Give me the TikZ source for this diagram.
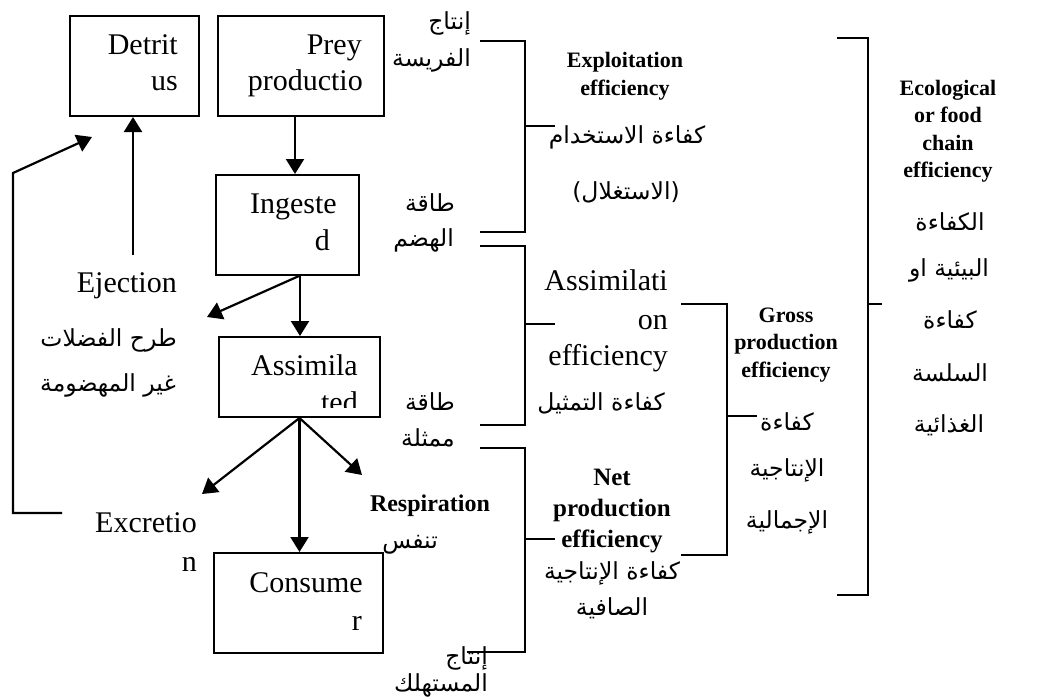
\documentclass[tikz,border=0pt]{standalone}
\usepackage{fontspec}
\setmainfont{Liberation Serif}
\newfontfamily\arabicfont[Script=Arabic]{DejaVu Sans}
\TeXXeTstate=1
\usetikzlibrary{arrows.meta}
\tikzset{
  box/.style={draw, line width=2pt, inner sep=0pt},
  lt/.style={inner sep=0pt, anchor=east, font=\fontsize{30}{36}\selectfont, text height=21pt, text depth=7pt},
  ar/.style={inner sep=0pt, font=\arabicfont\fontsize{23.5}{27}\selectfont},
  bt/.style={inner sep=0pt, align=center, font=\bfseries\fontsize{22}{27.5}\selectfont},
  arr/.style={line width=2.2pt, -{Triangle[length=15pt,width=18pt]}},
  brk/.style={line width=2pt},
}
\begin{document}
\begin{tikzpicture}[x=1pt,y=-1pt]
\useasboundingbox (0,0) rectangle (1041,699);
% boxes
\node[box, minimum width=129pt, minimum height=100pt] (det) at (134.5,66) {};
\node[box, minimum width=166pt, minimum height=100pt] (prey) at (301,66) {};
\node[box, minimum width=143pt, minimum height=100pt] (ing) at (287.5,225) {};
\node[box, minimum width=161pt, minimum height=80pt] (ass) at (299.5,377) {};
\node[box, minimum width=169pt, minimum height=100pt] (con) at (298.5,603) {};
% box texts
\node[lt] (t1) at (178,47) {Detrit};
\node[lt] (t2) at (178,83) {us};
\node[lt] (t3) at (362,47) {Prey};
\node[lt] (t4) at (363,83) {productio};
\node[lt] (t5) at (337,206) {Ingeste};
\node[lt] (t6) at (330,243) {d};
\node[lt] (t7) at (358,368) {Assimila};
\begin{scope}
  \clip (219,337) rectangle (380,407);
  \node[lt] (t8) at (358,405) {ted};
\end{scope}
\node[lt] (t9) at (363,585) {Consume};
\node[lt] (t10) at (362,623) {r};
\node[lt] (t11) at (177,285) {Ejection};
\node[lt] (t12) at (197,525) {Excretio};
\node[lt] (t13) at (197,564) {n};
% arabic labels left part
\node[ar, anchor=east] (a1) at (177,340) {\beginR طرح الفضلات\endR};
\node[ar, anchor=east] (a2) at (176,385) {\beginR غير المهضومة\endR};
\node[ar, anchor=east] (a3) at (471,23) {\beginR إنتاج\endR};
\node[ar, anchor=east] (a4) at (471,60) {\beginR الفريسة\endR};
\node[ar, anchor=east] (a5) at (455,203) {\beginR طاقة\endR};
\node[ar, anchor=east] (a6) at (454,240) {\beginR الهضم\endR};
\node[ar, anchor=east] (a7) at (455,402) {\beginR طاقة\endR};
\node[ar, anchor=east] (a8) at (455,438) {\beginR ممثلة\endR};
\node[ar, anchor=east] (a9) at (438,545) {\beginR تنفس\endR};
\node[ar, anchor=east] (a10) at (488,658) {\beginR إنتاج\endR};
\node[ar, anchor=east] (a11) at (488,685) {\beginR المستهلك\endR};
\node[bt, font=\bfseries\fontsize{24}{28}\selectfont] (resp) at (430,506) {Respiration};
% arrows
\draw[arr] ([xshift=-6pt]prey.south) -- ([xshift=-6pt]prey.south |- ing.north);
\draw[arr] ([xshift=12.5pt]ing.south) -- ([xshift=12.5pt]ing.south |- ass.north);
\coordinate (ejA) at (207,317);
\draw[arr] ([xshift=11.5pt]ing.south) -- (ejA);
\coordinate (ejTop) at (133,255);
\draw[arr] (ejTop) -- (ejTop |- det.south);
\coordinate (fb1) at (62,513);
\coordinate (fb2) at (13,513);
\coordinate (fb3) at (13,173);
\coordinate (fb4) at (92,137);
\draw[arr] (fb1) -- (fb2) -- (fb3) -- (fb4);
\coordinate (exA) at (202,494);
\coordinate (reA) at (362,475);
\draw[arr] (ass.south) -- (exA);
\draw[arr] (ass.south) -- (ass.south |- con.north);
\draw[arr] (ass.south) -- (reA);
% brackets
\draw[brk] (480,41) -- (525,41) -- (525,232) -- (480,232) (525,126) -- (555,126);
\draw[brk] (480,246) -- (525,246) -- (525,425) -- (480,425) (525,324) -- (555,324);
\draw[brk] (480,448) -- (525,448) -- (525,652) -- (467,652) (525,539) -- (555,539);
\draw[brk] (681,304) -- (727,304) -- (727,555) -- (681,555) (727,416) -- (757,416);
\draw[brk] (837,38) -- (868,38) -- (868,595) -- (837,595) (868,304) -- (882,304);
% exploitation
\node[bt] (expl) at (625,76) {Exploitation\\efficiency};
\node[ar] (e1) at (627,137) {\beginR كفاءة الاستخدام\endR};
\node[ar] (e2) at (626,192) {\beginR (الاستغلال)\endR};
% assimilation
\node[lt] (as1) at (668,283) {Assimilati};
\node[lt] (as2) at (668,322) {on};
\node[lt] (as3) at (668,358) {efficiency};
\node[ar, anchor=east] (as4) at (665,403) {\beginR كفاءة التمثيل\endR};
% net
\node[bt, font=\bfseries\fontsize{25}{31}\selectfont] (net) at (612,511) {Net\\production\\efficiency};
\node[ar] (n1) at (612,573) {\beginR كفاءة الإنتاجية\endR};
\node[ar] (n2) at (612,608) {\beginR الصافية\endR};
% gross
\node[bt] (gross) at (786,345) {Gross\\production\\efficiency};
\node[ar] (g1) at (787,422) {\beginR كفاءة\endR};
\node[ar] (g2) at (787,470) {\beginR الإنتاجية\endR};
\node[ar] (g3) at (787,522) {\beginR الإجمالية\endR};
% ecological
\node[bt] (eco) at (948,131) {Ecological\\or food\\chain\\efficiency};
\node[ar] (c1) at (950,222) {\beginR الكفاءة\endR};
\node[ar] (c2) at (949,270) {\beginR البيئية او\endR};
\node[ar] (c3) at (950,320) {\beginR كفاءة\endR};
\node[ar] (c4) at (950,373) {\beginR السلسة\endR};
\node[ar] (c5) at (949,425) {\beginR الغذائية\endR};
\end{tikzpicture}
\end{document}
